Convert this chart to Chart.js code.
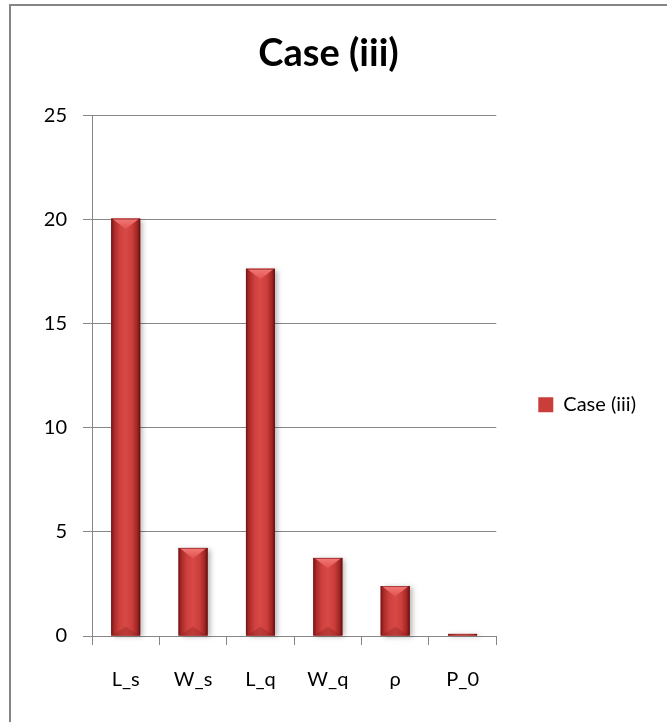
<!DOCTYPE html>
<html>
<head>
<meta charset="utf-8">
<script src="https://cdn.jsdelivr.net/npm/chart.js@4.4.1/dist/chart.umd.min.js"></script>
<style>
  html, body { margin: 0; padding: 0; background: #fff; overflow: hidden; }
  #frame { position: absolute; left: 9px; top: 4px; width: 720px; height: 760px;
           border-left: 2px solid #858585; border-top: 2px solid #858585; }
  #wrap { position: absolute; left: 11px; top: 6px; width: 656px; height: 716px; }
</style>
</head>
<body>
<div id="frame"></div>
<div id="wrap"><canvas id="chart"></canvas></div>
<script>
// values
const categories = ['L_s', 'W_s', 'L_q', 'W_q', 'ρ', 'P_0'];
const seriesName = 'Case (iii)';
const values = [20.05, 4.23, 17.64, 3.75, 2.4, 0.1];
const yTicks = [0, 5, 10, 15, 20, 25];

const FONT = 'Lato, "Open Sans", sans-serif';
const GRID = '#868686';

// bevelled Excel-style bars, drawn over each bar element the library placed
const bevelBars = {
  id: 'bevelBars',
  afterDatasetsDraw(chart) {
    const ctx = chart.ctx;
    const meta = chart.getDatasetMeta(0);
    meta.data.forEach(bar => {
      const w = bar.width;
      const left = bar.x - w / 2, right = bar.x + w / 2;
      const top = Math.min(bar.y, bar.base), bottom = Math.max(bar.y, bar.base);
      const h = bottom - top;
      if (h <= 0) return;

      // soft shadow to the right
      ctx.save();
      ctx.shadowColor = 'rgba(0,0,0,0.28)';
      ctx.shadowBlur = 5;
      ctx.shadowOffsetX = 3;
      ctx.shadowOffsetY = 1;
      ctx.fillStyle = '#b83230';
      ctx.fillRect(left, top, w, h);
      ctx.restore();

      // body
      const g = ctx.createLinearGradient(left, 0, right, 0);
      g.addColorStop(0, '#6f1616');
      g.addColorStop(0.1, '#a92a28');
      g.addColorStop(0.3, '#cf413e');
      g.addColorStop(0.5, '#d64945');
      g.addColorStop(0.72, '#cc3e3b');
      g.addColorStop(0.9, '#a02624');
      g.addColorStop(1, '#5e1010');
      ctx.fillStyle = g;
      ctx.fillRect(left, top, w, h);

      // top bevel
      const d = Math.min(w * 0.36, h);
      const tg = ctx.createLinearGradient(0, top, 0, top + d);
      tg.addColorStop(0, '#f27a78');
      tg.addColorStop(1, '#e2524f');
      ctx.fillStyle = tg;
      ctx.beginPath();
      ctx.moveTo(left + 1, top);
      ctx.lineTo(right - 1, top);
      ctx.lineTo(bar.x, top + d);
      ctx.closePath();
      ctx.fill();
      ctx.fillStyle = 'rgba(120,20,20,0.6)';
      ctx.fillRect(left, top, w, Math.min(1, h));

      // faint bottom bevel
      const bd = Math.min(w * 0.3, h / 3);
      ctx.fillStyle = 'rgba(110,20,20,0.25)';
      ctx.beginPath();
      ctx.moveTo(left + 1, bottom);
      ctx.lineTo(right - 1, bottom);
      ctx.lineTo(bar.x, bottom - bd);
      ctx.closePath();
      ctx.fill();
    });
  }
};

const data = {
  labels: categories,
  datasets: [{
    label: seriesName,
    data: values,
    backgroundColor: '#c93d3a',
    borderColor: '#7a1a1a',
    borderWidth: 0,
    barPercentage: 0.43,
    categoryPercentage: 1
  }]
};

const options = {
  responsive: true,
  maintainAspectRatio: false,
  animation: false,
  layout: { padding: { left: 0, right: 21, top: 0, bottom: 0 } },
  plugins: {
    title: {
      display: true,
      text: seriesName,
      color: '#000',
      fullSize: true,
      font: { family: FONT, size: 38, weight: 'bold' },
      padding: { top: 25, bottom: 39 }
    },
    legend: {
      position: 'right',
      fullSize: false,
      title: { display: true, text: '', padding: { top: 0, bottom: 40 }, font: { size: 15 } },
      labels: {
        boxWidth: 15,
        boxHeight: 15,
        padding: 42,
        color: '#000',
        font: { family: FONT, size: 20 }
      }
    },
    tooltip: { enabled: false }
  },
  scales: {
    x: {
      offset: true,
      grid: { display: true, drawOnChartArea: false, drawTicks: true, tickLength: 9, color: GRID, offset: true },
      border: { display: true, color: GRID, width: 1 },
      ticks: { color: '#000', font: { family: FONT, size: 20 }, padding: 23 },
      afterFit: s => { s.height = 86; }
    },
    y: {
      min: 0,
      max: 25,
      afterBuildTicks: s => { s.ticks = yTicks.map(v => ({ value: v })); },
      grid: { color: GRID, tickLength: 9, lineWidth: 1 },
      border: { display: true, color: GRID, width: 1 },
      ticks: { color: '#000', font: { family: FONT, size: 20 }, padding: 16 },
      afterFit: s => { s.width = 81; }
    }
  }
};

const ctx = document.getElementById('chart').getContext('2d');
const myChart = new Chart(ctx, {
  type: 'bar',
  data: data,
  options: options,
  plugins: [bevelBars]
});
</script>
</body>
</html>
